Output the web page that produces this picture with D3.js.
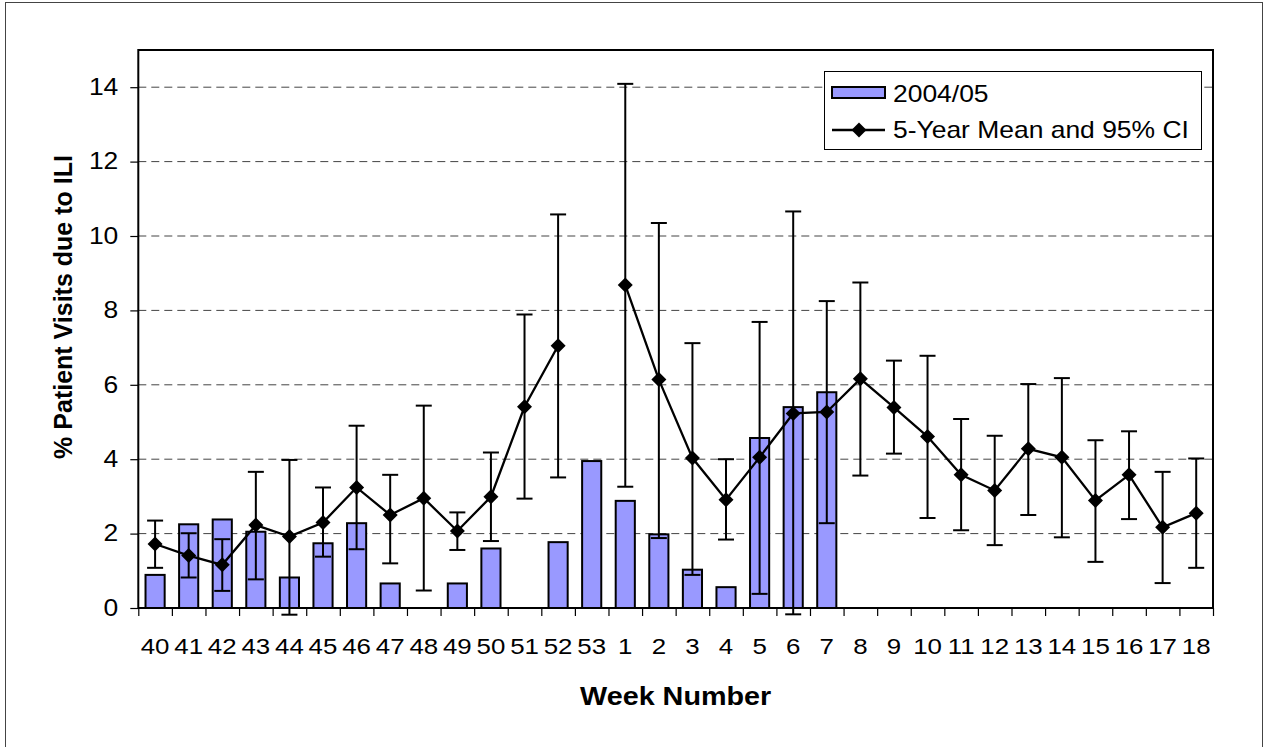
<!DOCTYPE html>
<html>
<head>
<meta charset="utf-8">
<script src="https://cdn.jsdelivr.net/npm/d3@7"></script>
<style>
    body { margin: 0; background: #fff; }
    text { font-family: 'Liberation Sans', Arial, sans-serif; fill: #000; }
</style>
</head>
<body>
<div id="chart"></div>
<script>
const weeks = ['40', '41', '42', '43', '44', '45', '46', '47', '48', '49', '50', '51', '52', '53',
    '1', '2', '3', '4', '5', '6', '7', '8', '9', '10', '11', '12', '13', '14', '15', '16', '17', '18'];
const season = [0.89, 2.25, 2.38, 2.05, 0.82, 1.74, 2.28, 0.66, null, 0.66, 1.60, null, 1.77, 3.95,
    2.88, 1.98, 1.03, 0.56, 4.57, 5.40, 5.80, null, null, null, null, null, null, null, null, null, null, null];
const mean = [1.72, 1.41, 1.16, 2.23, 1.92, 2.30, 3.24, 2.50, 2.95, 2.07, 2.99, 5.41, 7.05, null,
    8.68, 6.14, 4.03, 2.91, 4.05, 5.23, 5.27, 6.16, 5.39, 4.61, 3.58, 3.16, 4.28, 4.05, 2.89, 3.58, 2.17, 2.55];
const upper = [2.35, 2.01, 1.85, 3.66, 3.98, 3.24, 4.90, 3.58, 5.44, 2.57, 4.18, 7.89, 10.58, null,
    14.09, 10.35, 7.12, 4.00, 7.69, 10.66, 8.25, 8.75, 6.65, 6.78, 5.08, 4.63, 6.02, 6.18, 4.51, 4.75, 3.66, 4.02];
const lower = [1.08, 0.82, 0.46, 0.77, -0.18, 1.38, 1.58, 1.20, 0.47, 1.56, 1.80, 2.94, 3.51, null,
    3.26, 1.88, 0.89, 1.84, 0.38, -0.17, 2.28, 3.56, 4.15, 2.42, 2.09, 1.69, 2.50, 1.90, 1.24, 2.39, 0.67, 1.08];
const yTicks = [0, 2, 4, 6, 8, 10, 12, 14];
const legendLabels = ['2004/05', '5-Year Mean and 95% CI'];

const w = 1264;
const h = 747;
const plotLeft = 138.3, plotRight = 1213, plotTop = 50, plotBottom = 608;
const stretch = 1.15;

const data = weeks.map((wk, i) => ({ wk, bar: season[i], mean: mean[i], hi: upper[i], lo: lower[i] }));

const xScale = d3.scaleBand()
    .domain(weeks)
    .range([plotLeft, plotRight])
    .paddingInner(0.43)
    .paddingOuter(0.215);
const xEdge = d3.scaleLinear()
    .domain([0, weeks.length])
    .range([plotLeft, plotRight]);
const yScale = d3.scaleLinear()
    .domain([0, 15])
    .range([plotBottom, plotTop]);
const cx = d => xScale(d.wk) + xScale.bandwidth() / 2;

const svg = d3.select('#chart')
    .append('svg')
    .attr('width', w)
    .attr('height', h);

svg.append('rect')
    .attr('x', 5.5).attr('y', 2.5)
    .attr('width', 1257).attr('height', 760)
    .attr('fill', 'none').attr('stroke', '#444').attr('stroke-width', 1);

// dashed gridlines
svg.append('g')
    .selectAll('line')
    .data(yTicks.filter(t => t > 0))
    .enter()
    .append('line')
    .attr('x1', plotLeft).attr('x2', plotRight)
    .attr('y1', d => yScale(d)).attr('y2', d => yScale(d))
    .attr('stroke', '#444').attr('stroke-width', 1)
    .attr('stroke-dasharray', '8,5');

svg.append('g')
    .selectAll('rect')
    .data(data.filter(d => d.bar != null))
    .enter()
    .append('rect')
    .attr('x', d => xScale(d.wk))
    .attr('y', d => yScale(d.bar))
    .attr('width', xScale.bandwidth())
    .attr('height', d => yScale(0) - yScale(d.bar))
    .attr('fill', '#9999ff')
    .attr('stroke', '#000')
    .attr('stroke-width', 2);

// error bars
const ci = data.filter(d => d.mean != null);
const eb = svg.append('g')
    .attr('stroke', '#000')
    .attr('stroke-width', 2);
eb.selectAll('line.v')
    .data(ci)
    .enter()
    .append('line')
    .attr('class', 'v')
    .attr('x1', cx).attr('x2', cx)
    .attr('y1', d => yScale(d.hi)).attr('y2', d => yScale(d.lo));
['hi', 'lo'].forEach(k => {
    eb.selectAll('line.' + k)
        .data(ci)
        .enter()
        .append('line')
        .attr('class', k)
        .attr('x1', d => cx(d) - 8).attr('x2', d => cx(d) + 8)
        .attr('y1', d => yScale(d[k])).attr('y2', d => yScale(d[k]));
});

const line = d3.line()
    .defined(d => d.mean != null)
    .x(cx)
    .y(d => yScale(d.mean));
svg.append('path')
    .datum(data)
    .attr('d', line)
    .attr('fill', 'none')
    .attr('stroke', '#000')
    .attr('stroke-width', 2.3);

const diamond = 'M0,-7.5L7.5,0L0,7.5L-7.5,0Z';
svg.append('g')
    .selectAll('path')
    .data(ci)
    .enter()
    .append('path')
    .attr('d', diamond)
    .attr('transform', d => `translate(${cx(d)},${yScale(d.mean)})`)
    .attr('fill', '#000');

// frame
svg.append('rect')
    .attr('x', plotLeft).attr('y', plotTop)
    .attr('width', plotRight - plotLeft).attr('height', plotBottom - plotTop)
    .attr('fill', 'none').attr('stroke', '#000').attr('stroke-width', 2);

const yAxis = svg.append('g')
    .attr('transform', `translate(${plotLeft}, 0)`)
    .call(d3.axisLeft(yScale).tickValues(yTicks).tickSize(8).tickSizeOuter(0).tickPadding(12));
yAxis.select('.domain').remove();
yAxis.selectAll('line').attr('stroke', '#000').attr('stroke-width', 1.2);
yAxis.selectAll('text')
    .attr('font-size', 23)
    .attr('font-family', 'Liberation Sans, Arial, sans-serif')
    .attr('x', 0)
    .attr('transform', `translate(-20, 0) scale(${stretch}, 1)`);

const xTicks = svg.append('g')
    .attr('transform', `translate(0, ${plotBottom})`)
    .call(d3.axisBottom(xEdge).tickValues(d3.range(weeks.length + 1)).tickFormat('').tickSize(8).tickSizeOuter(0));
xTicks.select('.domain').remove();
xTicks.selectAll('line').attr('stroke', '#000').attr('stroke-width', 1.2);

const xAxis = svg.append('g')
    .attr('transform', `translate(0, ${plotBottom})`)
    .call(d3.axisBottom(xScale).tickSize(0).tickPadding(30));
xAxis.select('.domain').remove();
xAxis.selectAll('text')
    .attr('font-size', 22.5)
    .attr('font-family', 'Liberation Sans, Arial, sans-serif')
    .attr('transform', `scale(${stretch}, 1)`);

svg.append('text')
    .attr('transform', `translate(${(plotLeft + plotRight) / 2}, 705) scale(${stretch}, 1)`)
    .attr('text-anchor', 'middle')
    .attr('font-size', 25)
    .attr('font-weight', 'bold')
    .text('Week Number');

svg.append('text')
    .attr('transform', 'translate(72, 307) rotate(-90)')
    .attr('text-anchor', 'middle')
    .attr('font-size', 25)
    .attr('font-weight', 'bold')
    .text('% Patient Visits due to ILI');

// legend
const lg = svg.append('g');
lg.append('rect')
    .attr('x', 824.5).attr('y', 71.5)
    .attr('width', 377).attr('height', 78)
    .attr('fill', '#fff').attr('stroke', '#000').attr('stroke-width', 1);
lg.append('rect')
    .attr('x', 832).attr('y', 87)
    .attr('width', 53).attr('height', 11)
    .attr('fill', '#9999ff').attr('stroke', '#000').attr('stroke-width', 2);
lg.append('line')
    .attr('x1', 832).attr('x2', 885)
    .attr('y1', 130).attr('y2', 130)
    .attr('stroke', '#000').attr('stroke-width', 2.3);
lg.append('path')
    .attr('d', diamond)
    .attr('transform', 'translate(859, 130)')
    .attr('fill', '#000');
lg.selectAll('text')
    .data(legendLabels)
    .enter()
    .append('text')
    .attr('transform', (d, i) => `translate(893, ${i ? 138 : 102}) scale(${stretch}, 1)`)
    .attr('font-size', 23)
    .text(d => d);
</script>
</body>
</html>
